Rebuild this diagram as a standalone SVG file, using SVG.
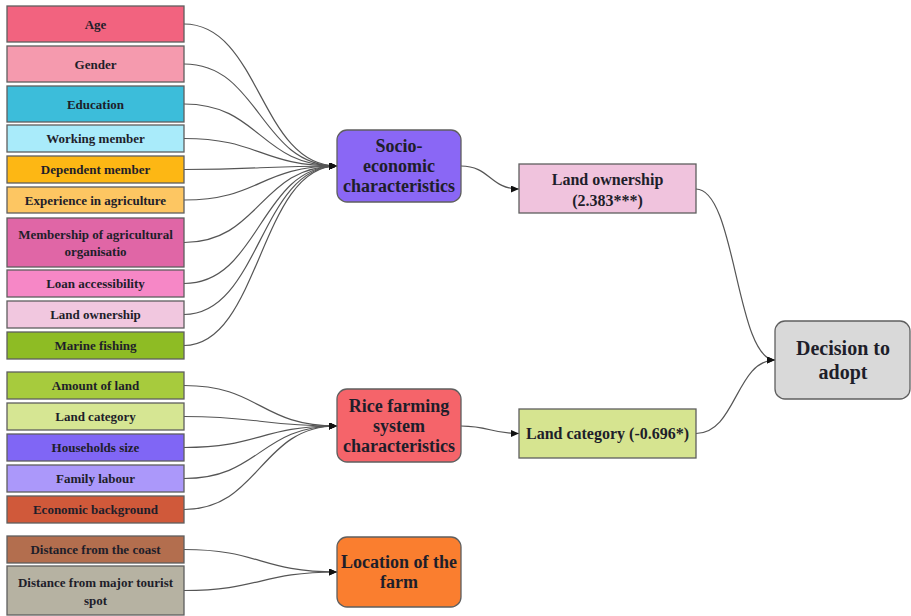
<svg xmlns="http://www.w3.org/2000/svg" width="911" height="616" viewBox="0 0 911 616">
<style>
.b{stroke:#5f5f5f;stroke-width:1.3}
.t{font-family:'Liberation Serif','DejaVu Serif',serif;font-weight:700;fill:#1e1e2a;text-anchor:middle;dominant-baseline:central}
.s{font-size:13px}
.m{font-size:18px}
.r{font-size:16px}
.d{font-size:20px}
.c{fill:none;stroke:#555;stroke-width:1.2}
</style>
<defs>
<marker id="ah" markerUnits="userSpaceOnUse" markerWidth="9" markerHeight="8" refX="8" refY="3.5" orient="auto">
<path d="M0,0 L8,3.5 L0,7 z" fill="#111"/>
</marker>
</defs>
<rect width="911" height="616" fill="#fff"/>
<g id="connectors">
<path class="c" marker-end="url(#ah)" d="M184,24 C260,24 260,166 337,166"/>
<path class="c" marker-end="url(#ah)" d="M184,64 C260,64 260,166 337,166"/>
<path class="c" marker-end="url(#ah)" d="M184,104 C260,104 260,166 337,166"/>
<path class="c" marker-end="url(#ah)" d="M184,138.5 C260,138.5 260,166 337,166"/>
<path class="c" marker-end="url(#ah)" d="M184,169.5 C260,169.5 260,166 337,166"/>
<path class="c" marker-end="url(#ah)" d="M184,200 C260,200 260,166 337,166"/>
<path class="c" marker-end="url(#ah)" d="M184,242.5 C260,242.5 260,166 337,166"/>
<path class="c" marker-end="url(#ah)" d="M184,283.5 C260,283.5 260,166 337,166"/>
<path class="c" marker-end="url(#ah)" d="M184,314.5 C260,314.5 260,166 337,166"/>
<path class="c" marker-end="url(#ah)" d="M184,345.5 C260,345.5 260,166 337,166"/>
<path class="c" marker-end="url(#ah)" d="M184,385.5 C260,385.5 260,426 337,426"/>
<path class="c" marker-end="url(#ah)" d="M184,416.5 C260,416.5 260,426 337,426"/>
<path class="c" marker-end="url(#ah)" d="M184,447.5 C260,447.5 260,426 337,426"/>
<path class="c" marker-end="url(#ah)" d="M184,478.5 C260,478.5 260,426 337,426"/>
<path class="c" marker-end="url(#ah)" d="M184,509.5 C260,509.5 260,426 337,426"/>
<path class="c" marker-end="url(#ah)" d="M184,549.5 C260,549.5 260,572 337,572"/>
<path class="c" marker-end="url(#ah)" d="M184,590.5 C260,590.5 260,572 337,572"/>
<path class="c" marker-end="url(#ah)" d="M461,166 C490,166 490,189 519,189"/>
<path class="c" marker-end="url(#ah)" d="M461,426 C490,426 490,433.5 519,433.5"/>
<path class="c" marker-end="url(#ah)" d="M696,189 C736,189 736,360 775,360"/>
<path class="c" marker-end="url(#ah)" d="M696,433.5 C736,433.5 736,360 775,360"/>
</g>
<g id="age"><rect class="b" x="7" y="6" width="177" height="36" fill="#F2637F"/><text class="t s" x="95.5" y="24">Age</text></g>
<g id="gender"><rect class="b" x="7" y="46" width="177" height="36" fill="#F59AAE"/><text class="t s" x="95.5" y="64">Gender</text></g>
<g id="education"><rect class="b" x="7" y="86" width="177" height="36" fill="#3CBDDA"/><text class="t s" x="95.5" y="104">Education</text></g>
<g id="working"><rect class="b" x="7" y="125" width="177" height="27" fill="#A9EBFA"/><text class="t s" x="95.5" y="138.5">Working member</text></g>
<g id="dependent"><rect class="b" x="7" y="156" width="177" height="27" fill="#FDB714"/><text class="t s" x="95.5" y="169.5">Dependent member</text></g>
<g id="experience"><rect class="b" x="7" y="187" width="177" height="26" fill="#FDC662"/><text class="t s" x="95.5" y="200">Experience in agriculture</text></g>
<g id="membership"><rect class="b" x="7" y="218" width="177" height="49" fill="#E066A6"/><text class="t s" x="95.5" y="234">Membership of agricultural</text><text class="t s" x="95.5" y="251">organisatio</text></g>
<g id="loan"><rect class="b" x="7" y="270" width="177" height="27" fill="#F687C6"/><text class="t s" x="95.5" y="283.5">Loan accessibility</text></g>
<g id="landown"><rect class="b" x="7" y="301" width="177" height="27" fill="#F1C7DF"/><text class="t s" x="95.5" y="314.5">Land ownership</text></g>
<g id="marine"><rect class="b" x="7" y="332" width="177" height="27" fill="#8EBC24"/><text class="t s" x="95.5" y="345.5">Marine fishing</text></g>
<g id="amount"><rect class="b" x="7" y="372" width="177" height="27" fill="#A7CB3D"/><text class="t s" x="95.5" y="385.5">Amount of land</text></g>
<g id="landcat"><rect class="b" x="7" y="403" width="177" height="27" fill="#D6E693"/><text class="t s" x="95.5" y="416.5">Land category</text></g>
<g id="households"><rect class="b" x="7" y="434" width="177" height="27" fill="#8066F5"/><text class="t s" x="95.5" y="447.5">Households size</text></g>
<g id="family"><rect class="b" x="7" y="465" width="177" height="27" fill="#AB98FA"/><text class="t s" x="95.5" y="478.5">Family labour</text></g>
<g id="economic"><rect class="b" x="7" y="496" width="177" height="27" fill="#D0593A"/><text class="t s" x="95.5" y="509.5">Economic background</text></g>
<g id="coast"><rect class="b" x="7" y="536" width="177" height="27" fill="#B36E4E"/><text class="t s" x="95.5" y="549.5">Distance from the coast</text></g>
<g id="tourist"><rect class="b" x="7" y="566" width="177" height="49" fill="#B6B2A2"/><text class="t s" x="95.5" y="582">Distance from major tourist</text><text class="t s" x="95.5" y="600">spot</text></g>
<g id="socio"><rect class="b" x="337" y="130" width="124" height="72" rx="10" fill="#8A67F5"/><text class="t m" x="399" y="146">Socio-</text><text class="t m" x="399" y="166">economic</text><text class="t m" x="399" y="186">characteristics</text></g>
<g id="rice"><rect class="b" x="337" y="389" width="124" height="73" rx="10" fill="#F5646A"/><text class="t m" x="399" y="406">Rice farming</text><text class="t m" x="399" y="426">system</text><text class="t m" x="399" y="446">characteristics</text></g>
<g id="location"><rect class="b" x="337" y="537" width="124" height="70" rx="10" fill="#FA7E2F"/><text class="t m" x="399" y="562">Location of the</text><text class="t m" x="399" y="582">farm</text></g>
<g id="res-landown"><rect class="b" x="519" y="164" width="177" height="49" fill="#F0C3DD"/><text class="t r" x="607.5" y="179">Land ownership</text><text class="t r" x="607.5" y="200">(2.383***)</text></g>
<g id="res-landcat"><rect class="b" x="519" y="409" width="177" height="49" fill="#D6E490"/><text class="t r" x="607.5" y="433.5">Land category (-0.696*)</text></g>
<g id="decision"><rect class="b" x="775" y="321" width="135" height="78" rx="10" fill="#D9D9D9"/><text class="t d" x="843" y="348">Decision to</text><text class="t d" x="843" y="372">adopt</text></g>
</svg>
